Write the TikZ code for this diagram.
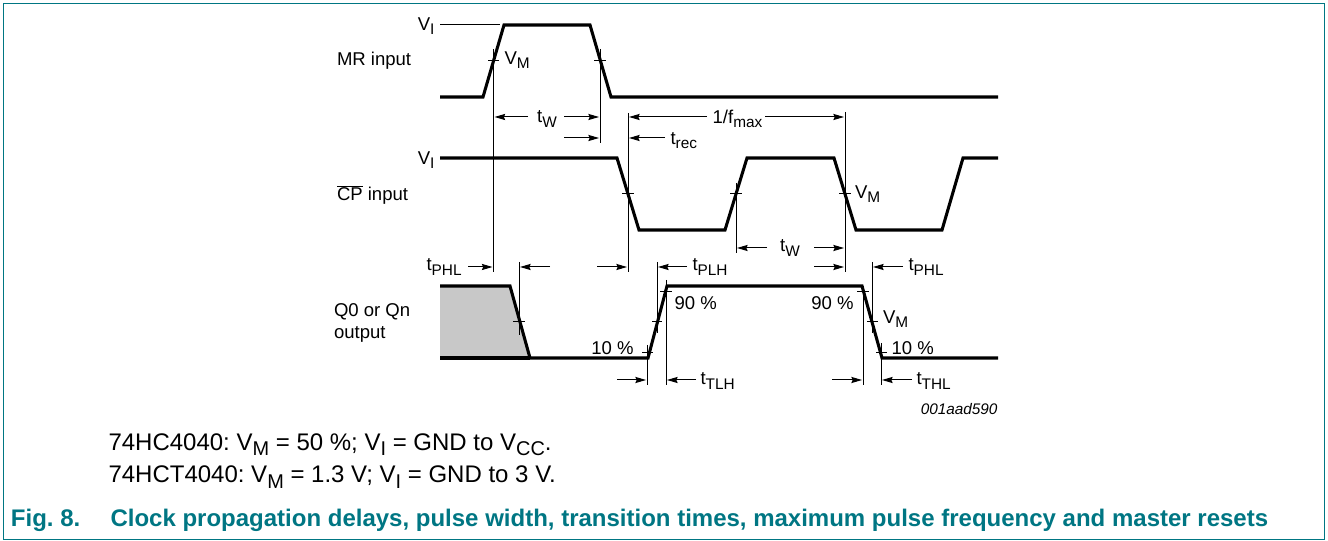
\documentclass[tikz,border=0pt]{standalone}
\usepackage{fontspec}
\setmainfont{Liberation Sans}
\usetikzlibrary{arrows.meta}
\definecolor{capteal}{RGB}{0,118,131}
\newcommand{\lowtxt}[1]{\raisebox{-0.42ex}{\scalebox{0.83}{#1}}}
\frenchspacing
\tikzset{every picture/.style={line width=0.75pt}}
\tikzset{
  wave/.style={line width=2.3pt,line join=miter},
  thinline/.style={line width=0.75pt},
  dimline/.style={line width=0.75pt,-{Stealth[length=8pt,width=4.6pt,inset=1pt]}},
  lbl/.style={inner sep=0.75pt,font=\fontsize{13.9}{16}\selectfont},
  notetxt/.style={inner sep=0.75pt,anchor=west,font=\fontsize{18}{21}\selectfont},
  captxt/.style={inner sep=0.75pt,anchor=west,color=capteal,font=\fontsize{18}{21}\selectfont\bfseries},
}

\begin{document}
\begin{tikzpicture}[x=0.75pt,y=0.75pt,yscale=-1,xscale=1]
\useasboundingbox (0,0) rectangle (1328,541);

%Frame
\draw [color=capteal,line width=1pt] (3.5,3.5) -- (1324.5,3.5) -- (1324.5,539.5) -- (3.5,539.5) -- cycle ;

%Shaded area
\fill [color={rgb, 255:red, 200; green, 200; blue, 200 }] (440,286) -- (510,286) -- (530,358) -- (440,358) -- cycle ;

%Waveforms
\draw [wave] (440,97) -- (483,97) -- (504,25) -- (590,25) -- (611,97) -- (998,97) ;
\draw [wave] (440,158) -- (617,158) -- (639,230) -- (725,230) -- (747,158) -- (834,158) -- (856,230) -- (942,230) -- (963,158) -- (998,158) ;
\draw [wave] (440,286) -- (510,286) -- (530,358) -- (648,358) -- (667,286) -- (862,286) -- (882,358) -- (998,358) ;
\draw [wave] (440,358) -- (530,358) ;

%Level line
\draw [thinline] (440,25) -- (500,25) ;

%Vertical lines
\draw [thinline] (493.5,49) -- (493.5,272) ;
\draw [thinline] (600,49) -- (600,143) ;
\draw [thinline] (628,113) -- (628,272) ;
\draw [thinline] (845,112) -- (845,272) ;
\draw [thinline] (736,183) -- (736,253) ;
\draw [thinline] (519,262) -- (519,335) ;
\draw [thinline] (657,262) -- (657,333) ;
\draw [thinline] (872,262) -- (872,333) ;
\draw [thinline] (647,345) -- (647,385) ;
\draw [thinline] (666,280) -- (666,385) ;
\draw [thinline] (863,286) -- (863,385) ;
\draw [thinline] (881,343) -- (881,385) ;

%Ticks
\draw [thinline] (488,61) -- (499,61) ;
\draw [thinline] (594,61) -- (606,61) ;
\draw [thinline] (622,194) -- (634,194) ;
\draw [thinline] (730,194) -- (742,194) ;
\draw [thinline] (839,194) -- (851,194) ;
\draw [thinline] (513,322) -- (525,322) ;
\draw [thinline] (652,322) -- (662,322) ;
\draw [thinline] (867,322) -- (878,322) ;
\draw [thinline] (642,353) -- (653,353) ;
\draw [thinline] (876,353) -- (887,353) ;
\draw [thinline] (660,292) -- (672,292) ;
\draw [thinline] (857,292) -- (869,292) ;

%Dimension arrows
\draw [dimline] (528,117) -- (494.5,117) ;
\draw [dimline] (564,117) -- (599,117) ;
\draw [dimline] (564,138) -- (599,138) ;
\draw [dimline] (707,117) -- (629,117) ;
\draw [dimline] (765,117) -- (844,117) ;
\draw [dimline] (665,138) -- (629,138) ;
\draw [dimline] (767,248) -- (737,248) ;
\draw [dimline] (814,248) -- (844,248) ;
\draw [dimline] (468,267) -- (492.5,267) ;
\draw [dimline] (550,267) -- (520,267) ;
\draw [dimline] (597,267) -- (627,267) ;
\draw [dimline] (687,267) -- (658,267) ;
\draw [dimline] (814,267) -- (844,267) ;
\draw [dimline] (903,267) -- (873,267) ;
\draw [dimline] (617,380) -- (646,380) ;
\draw [dimline] (696,380) -- (667,380) ;
\draw [dimline] (832,380) -- (862,380) ;
\draw [dimline] (912,380) -- (882,380) ;

% Text Node
\draw (436,26) node (vitop) [anchor=east] [lbl] {V\lowtxt{I}};
% Text Node
\draw (335.5,61) node (mrinput) [anchor=west] [lbl] {MR input};
% Text Node
\draw (503,60) node (vmmr) [anchor=west] [lbl] {V\lowtxt{M}};
% Text Node
\draw (547,119) node (twmr) [lbl] {t\lowtxt{W}};
% Text Node
\draw (737.5,119) node (fmax) [lbl] {1/f\lowtxt{max}};
% Text Node
\draw (669,141) node (trec) [anchor=west] [lbl] {t\lowtxt{rec}};
% Text Node
\draw (436,160) node (vicp) [anchor=east] [lbl] {V\lowtxt{I}};
% Text Node
\draw (335.5,195) node (cpinput) [anchor=west] [lbl] {$\overline{\mbox{CP}}$ input};
% Text Node
\draw (853.5,194) node (vmcp) [anchor=west] [lbl] {V\lowtxt{M}};
% Text Node
\draw (790,248) node (twcp) [lbl] {t\lowtxt{W}};
% Text Node
\draw (425,267) node (tphla) [anchor=west] [lbl] {t\lowtxt{PHL}};
% Text Node
\draw (691,267) node (tplh) [anchor=west] [lbl] {t\lowtxt{PLH}};
% Text Node
\draw (907,267) node (tphlb) [anchor=west] [lbl] {t\lowtxt{PHL}};
% Text Node
\draw (332.5,312) node (qout) [anchor=west] [lbl] {Q0 or Qn};
% Text Node
\draw (332.5,334) node (qoutb) [anchor=west] [lbl] {output};
% Text Node
\draw (673,303) node (ninea) [anchor=west] [lbl] {90 \%};
% Text Node
\draw (855,303) node (nineb) [anchor=east] [lbl] {90 \%};
% Text Node
\draw (881.5,319) node (vmq) [anchor=west] [lbl] {V\lowtxt{M}};
% Text Node
\draw (635,348) node (tena) [anchor=east] [lbl] {10 \%};
% Text Node
\draw (890,348) node (tenb) [anchor=west] [lbl] {10 \%};
% Text Node
\draw (699,381) node (ttlh) [anchor=west] [lbl] {t\lowtxt{TLH}};
% Text Node
\draw (915,381) node (tthl) [anchor=west] [lbl] {t\lowtxt{THL}};
% Text Node
\draw (999,409) node (partno) [anchor=east] [inner sep=0.75pt,font=\fontsize{11.5}{13}\selectfont\itshape] {001aad590};
% Text Node
\draw (107,445) node (notea) [notetxt] {74HC4040: V\lowtxt{M} = 50 \%; V\lowtxt{I} = GND to V\lowtxt{CC}.};
% Text Node
\draw (107,477) node (noteb) [notetxt] {74HCT4040: V\lowtxt{M} = 1.3 V; V\lowtxt{I} = GND to 3 V.};
% Text Node
\draw (9.5,520) node (figno) [captxt] {Fig. 8.};
% Text Node
\draw (109,520) node (figcap) [captxt] {Clock propagation delays, pulse width, transition times, maximum pulse frequency and master resets};

\end{tikzpicture}
\end{document}
